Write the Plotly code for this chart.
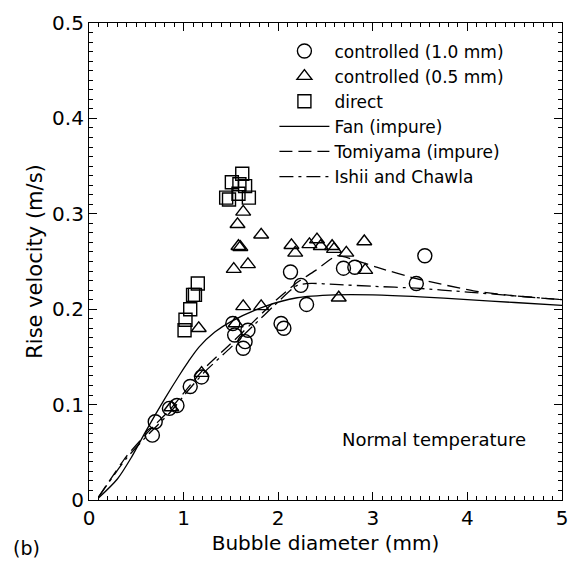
import plotly.graph_objects as go

# controlled (1.0 mm) - circles
c1_x = [0.67, 0.70, 0.85, 0.93, 1.07, 1.19, 1.52, 1.54, 1.68, 1.65, 1.63, 2.03, 2.06, 2.13, 2.24, 2.30, 2.69, 2.81, 3.46, 3.55]
c1_y = [0.068, 0.082, 0.096, 0.099, 0.119, 0.129, 0.185, 0.173, 0.178, 0.166, 0.159, 0.185, 0.180, 0.239, 0.225, 0.205, 0.243, 0.244, 0.227, 0.256]

# controlled (0.5 mm) - triangles
c2_x = [1.63, 1.57, 1.82, 1.58, 1.60, 1.53, 1.68, 1.63, 1.82, 1.16, 1.55, 2.14, 2.18, 2.33, 2.41, 2.45, 2.57, 2.59, 2.72, 2.91, 2.92, 2.64, 1.19, 0.87]
c2_y = [0.302, 0.289, 0.278, 0.266, 0.265, 0.242, 0.247, 0.203, 0.203, 0.180, 0.185, 0.267, 0.259, 0.268, 0.273, 0.266, 0.266, 0.263, 0.259, 0.271, 0.241, 0.212, 0.133, 0.097]

# direct - squares
d_x = [1.62, 1.51, 1.59, 1.65, 1.45, 1.48, 1.58, 1.69, 1.15, 1.10, 1.12, 1.07, 1.02, 1.01]
d_y = [0.342, 0.333, 0.331, 0.329, 0.317, 0.315, 0.321, 0.317, 0.227, 0.215, 0.215, 0.200, 0.189, 0.178]

# Fan (impure)
fan_x = [0.10, 0.30, 0.45, 0.60, 0.80, 0.95, 1.05, 1.16, 1.33, 1.50, 1.86, 2.20, 2.60, 3.00, 3.50, 4.00, 4.50, 5.00]
fan_y = [0.002, 0.022, 0.045, 0.072, 0.106, 0.130, 0.145, 0.160, 0.176, 0.187, 0.203, 0.212, 0.215, 0.215, 0.213, 0.210, 0.207, 0.204]

# Tomiyama (impure)
tom_x = [0.10, 0.39, 0.64, 0.85, 1.05, 1.22, 1.50, 1.75, 1.96, 2.20, 2.40, 2.62, 2.83, 3.04, 3.46, 4.08, 4.50, 5.00]
tom_y = [0.003, 0.045, 0.073, 0.094, 0.118, 0.138, 0.164, 0.188, 0.208, 0.228, 0.241, 0.256, 0.251, 0.244, 0.232, 0.219, 0.214, 0.210]

# Ishii and Chawla
ish_x = [0.10, 0.39, 0.64, 0.85, 1.05, 1.22, 1.50, 1.75, 1.96, 2.20, 2.35, 2.60, 3.00, 3.46, 4.00, 4.50, 5.00]
ish_y = [0.003, 0.043, 0.070, 0.091, 0.115, 0.134, 0.160, 0.184, 0.204, 0.225, 0.227, 0.226, 0.224, 0.222, 0.218, 0.214, 0.210]

FONT = "DejaVu Sans, Verdana, sans-serif"
fig = go.Figure()

fig.add_trace(go.Scatter(x=c1_x, y=c1_y, mode="markers", name="controlled (1.0 mm)",
                         marker=dict(symbol="circle-open", size=14, color="black", line=dict(width=1.4))))
fig.add_trace(go.Scatter(x=c2_x, y=c2_y, mode="markers", name="controlled (0.5 mm)",
                         marker=dict(symbol="triangle-up-open", size=13, color="black", line=dict(width=1.4))))
fig.add_trace(go.Scatter(x=d_x, y=d_y, mode="markers", name="direct",
                         marker=dict(symbol="square-open", size=13, color="black", line=dict(width=1.4))))
fig.add_trace(go.Scatter(x=fan_x, y=fan_y, mode="lines", name="Fan (impure)",
                         line=dict(color="black", width=1.3, shape="spline", smoothing=0.8)))
fig.add_trace(go.Scatter(x=tom_x, y=tom_y, mode="lines", name="Tomiyama (impure)",
                         line=dict(color="black", width=1.3, dash="13px,6px", shape="spline", smoothing=0.5)))
fig.add_trace(go.Scatter(x=ish_x, y=ish_y, mode="lines", name="Ishii and Chawla",
                         line=dict(color="black", width=1.3, dash="14px,5px,3px,5px", shape="spline", smoothing=0.6)))

axis_common = dict(showline=True, linecolor="black", linewidth=1.2, mirror="ticks",
                   ticks="inside", ticklen=8, tickwidth=1.2, tickcolor="black",
                   showgrid=False, zeroline=False,
                   tickfont=dict(family=FONT, size=20, color="black"))

fig.update_xaxes(range=[0, 5], dtick=1, tick0=0, tickformat="d",
                 minor=dict(dtick=0.1, ticks="inside", ticklen=4, tickwidth=1, tickcolor="black"),
                 title=dict(text="Bubble diameter (mm)", font=dict(family=FONT, size=20, color="black"), standoff=6),
                 **axis_common)
fig.update_yaxes(range=[0, 0.5], dtick=0.1, tick0=0,
                 minor=dict(dtick=0.01, ticks="inside", ticklen=4, tickwidth=1, tickcolor="black"),
                 title=dict(text="Rise velocity (m/s)", font=dict(family=FONT, size=21, color="black"), standoff=3),
                 **axis_common)

fig.add_annotation(text="Normal temperature", x=3.65, y=0.063, xref="x", yref="y",
                   showarrow=False, font=dict(family=FONT, size=18, color="black"))
fig.add_annotation(text="(b)", x=-0.165, y=-0.1, xref="paper", yref="paper",
                   xanchor="left", yanchor="middle", showarrow=False,
                   font=dict(family=FONT, size=19, color="black"))

fig.update_layout(
    width=579, height=565,
    margin=dict(l=89, r=11, t=22, b=65),
    paper_bgcolor="white", plot_bgcolor="white",
    showlegend=True,
    legend=dict(x=0.392, y=0.978, xanchor="left", yanchor="top",
                bgcolor="rgba(0,0,0,0)", borderwidth=0,
                font=dict(family=FONT, size=17, color="black"),
                tracegroupgap=0, itemwidth=50),
)

fig.write_html("out.html")
